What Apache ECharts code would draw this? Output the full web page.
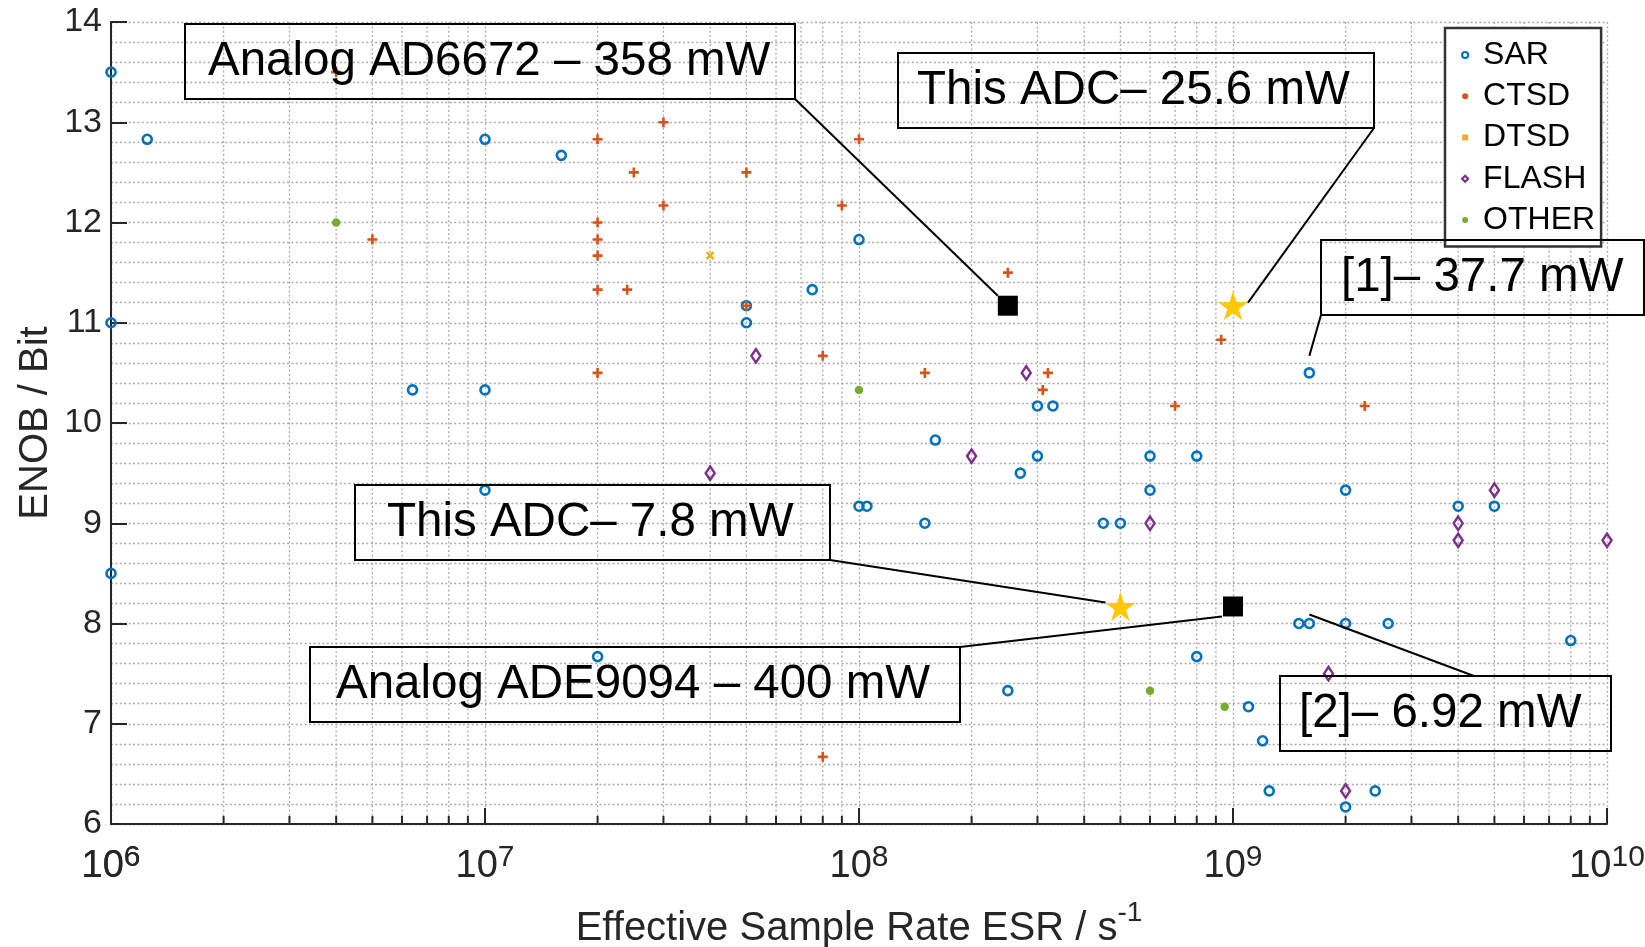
<!DOCTYPE html>
<html><head><meta charset="utf-8">
<script src="https://cdn.jsdelivr.net/npm/echarts@6/dist/echarts.min.js"></script>
<style>html,body{margin:0;padding:0;background:#fff}#c{width:1645px;height:947px}</style>
</head><body><div id="c"></div>
<script>
const FONT = '"Liberation Sans", Arial, Helvetica, sans-serif';

// ---- data: [ESR (1/s), ENOB (bit)] ----
const sarData = [
  [1e6,13.5],[1.25e6,12.83],[1e6,11.0],[1e6,8.5],[6.4e6,10.33],[1e7,12.83],[1e7,10.33],[1e7,9.33],
  [1.6e7,12.67],[2e7,7.67],[5e7,11.17],[5e7,11.0],[7.5e7,11.33],[1e8,11.83],[1e8,9.17],[1.05e8,9.17],
  [1.5e8,9.0],[1.6e8,9.83],[2.5e8,7.33],[2.7e8,9.5],[3e8,10.17],[3.3e8,10.17],[3e8,9.67],[4.5e8,9.0],
  [5e8,9.0],[6e8,9.67],[6e8,9.33],[8e8,9.67],[8e8,7.67],[1.1e9,7.17],[1.2e9,6.83],[1.25e9,6.33],
  [1.5e9,8.0],[1.6e9,8.0],[1.6e9,10.5],[2e9,9.33],[2e9,8.0],[2e9,6.17],[2.4e9,6.33],[2.6e9,8.0],
  [4e9,9.17],[5e9,9.17],[8e9,7.83]
];
const ctsdData = [
  [4e6,13.5],[5e6,11.83],[2e7,12.83],[2e7,12.0],[2e7,11.83],[2e7,11.67],[2e7,11.33],[2e7,10.5],
  [2.4e7,11.33],[2.5e7,12.5],[3e7,13.0],[3e7,12.17],[5e7,12.5],[5e7,11.17],[8e7,10.67],[8e7,6.67],
  [9e7,12.17],[1e8,12.83],[1.5e8,10.5],[2.5e8,11.5],[3.1e8,10.33],[3.2e8,10.5],[7e8,10.17],
  [9.3e8,10.83],[2.25e9,10.17]
];
const dtsdData = [[4e7,11.67]];
const flashData = [
  [4e7,9.5],[5.3e7,10.67],[2e8,9.67],[2.8e8,10.5],[6e8,9.0],[1.8e9,7.5],[2e9,6.33],[4e9,9.0],
  [4e9,8.83],[5e9,9.33],[1e10,8.83]
];
const otherData = [[4e6,12.0],[1e8,10.33],[6e8,7.33],[9.5e8,7.17]];
const thisWorkData = [[1e9,11.17],[5e8,8.17]];
const commercialData = [[2.5e8,11.17],[1e9,8.17]];

const seriesNames = ['SAR','CTSD','DTSD','FLASH','OTHER'];
const xDecades = [1e6,1e7,1e8,1e9];
const xMinorMultipliers = [2,3,4,5,6,7,8,9];
const xMin = 1e6, xMax = 1e10, yMin = 6, yMax = 14, yStep = 1;

const annotLabels = ['Analog AD6672 \u2013 358 mW','This ADC\u2013 25.6 mW','[1]\u2013 37.7 mW',
  'This ADC\u2013 7.8 mW','Analog ADE9094 \u2013 400 mW','[2]\u2013 6.92 mW'];
const annotTargets = [[2.5e8,11.17],[1e9,11.17],[1.6e9,10.5],[5e8,8.17],[1e9,8.17],[1.6e9,8.0]];

// ---- layout / style (pixels) ----
const annotLayout = [
  {box:[185,24,610,75],  tx:208,  anchor:[795,99],   off:[-10,-10]},
  {box:[898,53,476,75],  tx:917,  anchor:[1374,128], off:[15,-3]},
  {box:[1321,240,323,75],tx:1341, anchor:[1321,315], off:[0,-17]},
  {box:[355,485,475,75], tx:387,  anchor:[830,560],  off:[-15,-4]},
  {box:[310,647,650,75], tx:336,  anchor:[960,647],  off:[-11,10]},
  {box:[1280,676,331,75],tx:1299, anchor:[1474,676], off:[0,-9]}
];

const AXC = '#262626';
const GRIDC = '#ababab';
const DOT = [2, 2.4];
const PLUS = 'path://M3.7,0L6.3,0L6.3,3.7L10,3.7L10,6.3L6.3,6.3L6.3,10L3.7,10L3.7,6.3L0,6.3L0,3.7L3.7,3.7Z';
const STAR = 'path://M50,0L61.23,34.55L97.55,34.55L68.17,55.9L79.39,90.45L50,69.1L20.61,90.45L31.83,55.9L2.45,34.55L38.77,34.55Z';
const LABEL_MARGIN = 19;
const tickRich = {
  b: {fontSize: 38, fontFamily: FONT, color: AXC, verticalAlign: 'bottom', padding: [5,0,0,0]},
  s: {fontSize: 30, fontFamily: FONT, color: AXC, verticalAlign: 'top'}
};
const tickRichRaw = {
  b: {fontSize: 38, fontFamily: FONT, fill: AXC, verticalAlign: 'bottom', padding: [5,0,0,0]},
  s: {fontSize: 30, fontFamily: FONT, fill: AXC, verticalAlign: 'top'}
};
const powLabel = v => '{b|10}{s|' + Math.round(Math.log10(v)) + '}';

const minorTickData = [];
xDecades.forEach(d => xMinorMultipliers.forEach(m => minorTickData.push([m * d, yMin])));

const chart = echarts.init(document.getElementById('c'), null, {renderer: 'canvas'});

const option = {
  animation: false,
  backgroundColor: '#fff',
  grid: {left: 111, right: 38, top: 22, bottom: 123, containLabel: false, outerBoundsMode: 'none'},
  xAxis: {
    type: 'log', logBase: 10, min: xMin, max: xMax,
    name: '{a|Effective Sample Rate ESR / s}{s|-1}',
    nameLocation: 'middle', nameGap: 75, nameMoveOverlap: false,
    nameTextStyle: {
      rich: {
        a: {fontSize: 40, fontFamily: FONT, color: AXC, verticalAlign: 'bottom', padding: [10,0,0,0]},
        s: {fontSize: 28, fontFamily: FONT, color: AXC, verticalAlign: 'top'}
      }
    },
    axisLine: {show: true, onZero: false, lineStyle: {color: AXC, width: 2}},
    axisTick: {show: true, inside: true, length: 16, lineStyle: {color: AXC, width: 2}},
    axisLabel: {
      show: true, margin: LABEL_MARGIN, showMinLabel: false, showMaxLabel: true,
      alignMaxLabel: 'center', hideOverlap: false,
      formatter: powLabel,
      rich: tickRich
    },
    splitLine: {show: true, lineStyle: {color: GRIDC, width: 1.3, type: DOT}}
  },
  yAxis: {
    type: 'value', min: yMin, max: yMax, interval: yStep,
    name: 'ENOB / Bit', nameLocation: 'middle', nameGap: 55, nameMoveOverlap: false,
    nameTextStyle: {fontSize: 40, fontFamily: FONT, color: AXC},
    axisLine: {show: true, onZero: false, lineStyle: {color: AXC, width: 2}},
    axisTick: {show: true, inside: true, length: 16, lineStyle: {color: AXC, width: 2}},
    axisLabel: {show: true, margin: 9, fontSize: 34, lineHeight: 28, fontFamily: FONT, color: AXC,
      showMinLabel: true, showMaxLabel: true, hideOverlap: false},
    splitLine: {show: true, lineStyle: {color: GRIDC, width: 1.3, type: DOT}},
    minorTick: {show: false, splitNumber: 5},
    minorSplitLine: {show: true, lineStyle: {color: GRIDC, width: 1.3, type: DOT}}
  },
  legend: {
    show: true, orient: 'vertical', left: 1445, top: 28,
    data: [
      {name: 'SAR', icon: 'circle', itemStyle: {color: 'rgba(255,255,255,0)', borderColor: '#0072BD', borderWidth: 2.2}},
      {name: 'CTSD', icon: 'circle', itemStyle: {color: '#D95319', borderWidth: 0}},
      {name: 'DTSD', icon: 'rect', itemStyle: {color: '#EDB120', borderWidth: 0}},
      {name: 'FLASH', icon: 'diamond', itemStyle: {color: 'rgba(255,255,255,0)', borderColor: '#7E2F8E', borderWidth: 2.2}},
      {name: 'OTHER', icon: 'circle', itemStyle: {color: '#77AC30', borderWidth: 0}}
    ],
    itemWidth: 6, itemHeight: 6, itemGap: 9.25,
    textStyle: {fontSize: 32, lineHeight: 31, fontFamily: FONT, color: '#000', padding: [0, 0, 0, 10]},
    backgroundColor: '#fff', borderColor: '#333', borderWidth: 2.5, borderRadius: 0,
    padding: [11, 6, 10.5, 16],
    selectedMode: false
  },
  series: [
    {
      type: 'custom', name: 'xMinor', coordinateSystem: 'cartesian2d', silent: true, z: 1,
      data: minorTickData, encode: {x: 0, y: 1},
      renderItem: (params, api) => {
        const x = api.value(0);
        const bot = api.coord([x, yMin]);
        const top = api.coord([x, yMax]);
        return {type: 'group', children: [
          {type: 'line', shape: {x1: bot[0], y1: top[1], x2: bot[0], y2: bot[1]},
           style: {stroke: GRIDC, lineWidth: 1.3, lineDash: DOT}},
          {type: 'line', shape: {x1: bot[0], y1: bot[1], x2: bot[0], y2: bot[1] - 8},
           style: {stroke: AXC, lineWidth: 2}}
        ]};
      }
    },
    {type: 'scatter', name: 'SAR', data: sarData, symbol: 'circle', symbolSize: 9, z: 3,
     itemStyle: {color: 'rgba(255,255,255,0)', borderColor: '#0072BD', borderWidth: 2.6, opacity: 1}},
    {type: 'scatter', name: 'CTSD', data: ctsdData, symbol: PLUS, symbolSize: 10, z: 4,
     itemStyle: {color: '#D95319', opacity: 1}},
    {type: 'scatter', name: 'DTSD', data: dtsdData, symbol: PLUS, symbolSize: 10, symbolRotate: 45, z: 4,
     itemStyle: {color: '#EDB120', opacity: 1}},
    {type: 'scatter', name: 'FLASH', data: flashData, symbol: 'diamond', symbolSize: [9, 13.5], z: 4,
     itemStyle: {color: 'rgba(255,255,255,0)', borderColor: '#7E2F8E', borderWidth: 2.5, opacity: 1}},
    {type: 'scatter', name: 'OTHER', data: otherData, symbol: 'circle', symbolSize: 8.5, z: 4,
     itemStyle: {color: '#77AC30', opacity: 1}},
    {type: 'scatter', name: 'This work', data: thisWorkData, symbol: STAR, symbolSize: [30, 29], z: 5,
     itemStyle: {color: '#FFC800', opacity: 1}},
    {type: 'scatter', name: 'Commercial', data: commercialData, symbol: 'rect', symbolSize: 20, z: 5,
     itemStyle: {color: '#000', opacity: 1}}
  ]
};
chart.setOption(option);

// ---- annotation boxes with leader lines to their data points ----
const graphics = [];
annotLabels.forEach((label, i) => {
  const L = annotLayout[i];
  const [bx, by, bw, bh] = L.box;
  const p = chart.convertToPixel({gridIndex: 0}, annotTargets[i]);
  graphics.push({type: 'line', z: 100,
    shape: {x1: L.anchor[0], y1: L.anchor[1], x2: p[0] + L.off[0], y2: p[1] + L.off[1]},
    style: {stroke: '#000', lineWidth: 2}});
  graphics.push({type: 'rect', z: 100, shape: {x: bx, y: by, width: bw, height: bh},
    style: {fill: 'none', stroke: '#000', lineWidth: 2}});
  graphics.push({type: 'text', z: 101, x: L.tx, y: by + bh / 2,
    style: {text: label, fontSize: 47.5, fontFamily: FONT, fill: '#000', align: 'left', verticalAlign: 'middle'}});
});
// first x tick label (10^6), centred under the axis minimum
const p0 = chart.convertToPixel({gridIndex: 0}, [xMin, yMin]);
graphics.push({type: 'text', z: 50, x: p0[0], y: p0[1] + LABEL_MARGIN,
  style: {text: powLabel(xMin), rich: tickRichRaw, fill: AXC, align: 'center', verticalAlign: 'top'}});
chart.setOption({graphic: graphics});
</script></body></html>
